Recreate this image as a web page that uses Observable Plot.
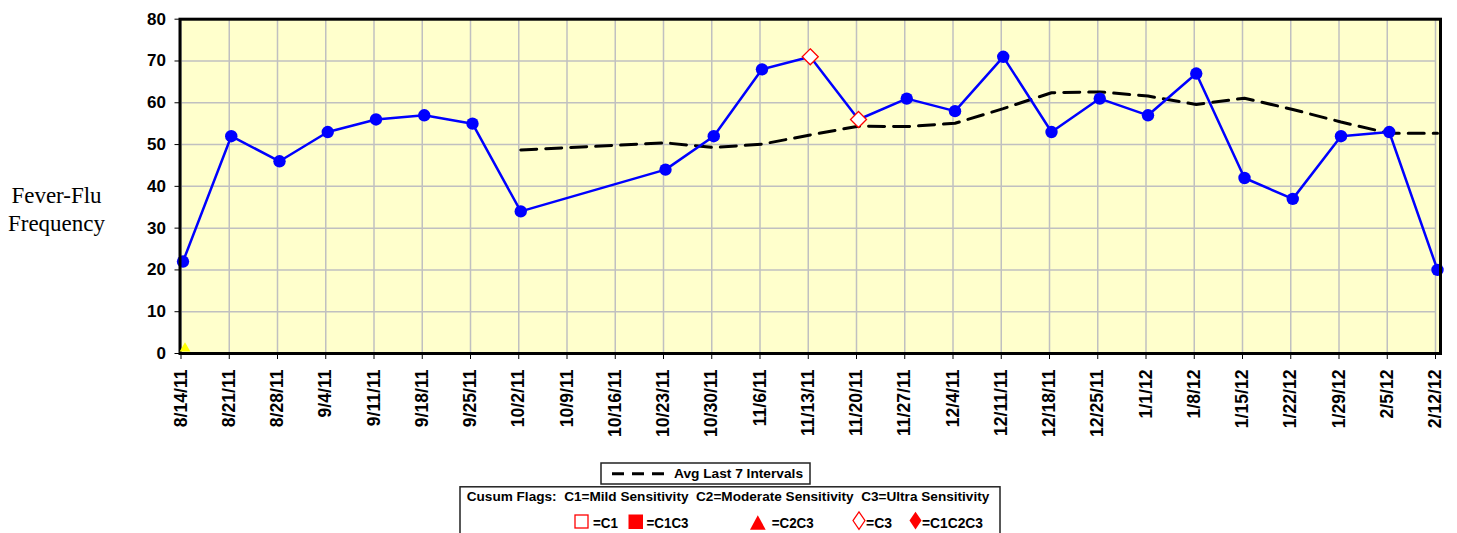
<!DOCTYPE html>
<html><head><meta charset="utf-8">
<script src="https://cdn.jsdelivr.net/npm/d3@7"></script>
<script src="https://cdn.jsdelivr.net/npm/@observablehq/plot@0.6"></script>
<style>
html,body{margin:0;padding:0;background:#fff;}
#wrap{position:relative;width:1457px;height:533px;overflow:hidden;background:#fff;}
#chart{position:absolute;left:0;top:0;}
#ylabel{position:absolute;left:0;top:182px;width:113px;text-align:center;font-family:"Liberation Serif","Times New Roman",serif;font-size:23px;line-height:28px;color:#000;}
#legend{position:absolute;left:0;top:455px;}
</style></head><body>
<div id="wrap"><div id="chart"></div><div id="ylabel">Fever-Flu<br>Frequency</div><div id="legend"></div></div>
<script>
// ---- data ----
const dates = ["8/14/11","8/21/11","8/28/11","9/4/11","9/11/11","9/18/11","9/25/11","10/2/11","10/9/11","10/16/11","10/23/11","10/30/11","11/6/11","11/13/11","11/20/11","11/27/11","12/4/11","12/11/11","12/18/11","12/25/11","1/1/12","1/8/12","1/15/12","1/22/12","1/29/12","2/5/12","2/12/12"];
const counts = [22,52,46,53,56,57,55,34,null,null,44,52,68,71,56,61,58,71,53,61,57,67,42,37,52,53,20];
const avgLast7 = [null,null,null,null,null,null,null,48.7,null,null,50.4,49.3,50.1,52.3,54.4,54.3,55.1,58.6,62.4,62.6,61.6,59.6,61.1,58.4,55.4,52.7,52.7];
const cusumFlags = ["","","","","","","","","","","","","","C3","C3","","","","","","","","","","","",""];
const baseMarkerDates = ["8/14/11"];
const baseMarkerValues = [0];
const yTicks = [0,10,20,30,40,50,60,70,80];

const rows = dates.map((d,i)=>({date:d, count:counts[i], avg:avgLast7[i], flag:cusumFlags[i]}));
const countRows = rows.filter(r => r.count != null);
const avgRows = rows.filter(r => r.avg != null);
const dotRows = countRows.filter(r => r.flag === "");
const flagRows = countRows.filter(r => r.flag === "C3");
const baseRows = baseMarkerDates.map((d,i)=>({date:d, value:baseMarkerValues[i]}));

const font = "'Liberation Sans', Arial, sans-serif";
const chart = Plot.plot({
  width: 1457, height: 455,
  marginLeft: 180.5, marginRight: 22, marginTop: 18.7, marginBottom: 102,
  style: {fontFamily: font, fontSize: "17px", fontWeight: "bold", color: "black", background: "transparent", overflow: "visible"},
  x: {type: "point", domain: dates, padding: 0, round: false, label: null},
  y: {domain: [0, 80], label: null},
  marks: [
    Plot.frame({fill: "#FFFFCC", insetRight: -5, insetLeft: -1}),
    Plot.gridX({stroke: "#c0c0c0", strokeOpacity: 1, strokeWidth: 1.5}),
    Plot.gridY(yTicks.slice(1, -1), {stroke: "#c0c0c0", strokeOpacity: 1, strokeWidth: 1.5}),
    Plot.line(avgRows, {x: "date", y: "avg", stroke: "black", strokeWidth: 3, strokeDasharray: "16,9", dx: 2}),
    Plot.line(countRows, {x: "date", y: "count", stroke: "#0000FF", strokeWidth: 2.5, dx: 2}),
    Plot.dot(dotRows, {x: "date", y: "count", r: 6.2, fill: "#0000FF", dx: 2}),
    Plot.dot(flagRows, {x: "date", y: "count", symbol: "diamond2", r: 7.2, fill: "white", stroke: "red", strokeWidth: 1.3, dx: 2}),
    Plot.frame({stroke: "black", strokeWidth: 3, insetRight: -5, insetLeft: -1}),
    Plot.dot(baseRows, {x: "date", y: "value", symbol: "triangle", r: 4, fill: "#FFFF00", stroke: "none", dx: 4, dy: -5}),
    Plot.axisY(yTicks, {tickSize: 6, tickPadding: 9, fontSize: 17, fontWeight: "bold", label: null}),
    Plot.axisX({tickSize: 6, tickPadding: 10, tickRotate: -90, fontSize: 17.6, fontWeight: "bold", label: null})
  ]
});
document.getElementById("chart").appendChild(chart);

// ---- legend ----
const off = 455;
const svg = d3.select("#legend").append("svg").attr("width", 1457).attr("height", 78)
  .style("font-family", font).style("font-weight", "bold");
function txt(s, x, y, size, len) {
  svg.append("text").attr("x", x).attr("y", y - off).attr("font-size", size)
    .attr("textLength", len).attr("lengthAdjust", "spacingAndGlyphs")
    .style("white-space", "pre").attr("fill", "black").text(s);
}
// box 1
svg.append("rect").attr("x", 601).attr("y", 463 - off).attr("width", 209).attr("height", 21)
  .attr("fill", "white").attr("stroke", "#222").attr("stroke-width", 1.5);
svg.append("line").attr("x1", 612).attr("x2", 664).attr("y1", 473.7 - off).attr("y2", 473.7 - off)
  .attr("stroke", "black").attr("stroke-width", 3).attr("stroke-dasharray", "12,8");
txt("Avg Last 7 Intervals", 674, 478.3, 12.5, 129);
// box 2
svg.append("rect").attr("x", 460).attr("y", 486.8 - off).attr("width", 540).attr("height", 70)
  .attr("fill", "white").attr("stroke", "#222").attr("stroke-width", 1.5);
txt("Cusum Flags:  C1=Mild Sensitivity  C2=Moderate Sensitivity  C3=Ultra Sensitivity", 466.7, 500.5, 13, 522.6);
// symbols
svg.append("rect").attr("x", 575).attr("y", 515 - off).attr("width", 13).attr("height", 13)
  .attr("fill", "white").attr("stroke", "red").attr("stroke-width", 1.3);
txt("=C1", 593, 528, 14, 25);
svg.append("rect").attr("x", 628.5).attr("y", 514.5 - off).attr("width", 14.5).attr("height", 14.5).attr("fill", "red");
txt("=C1C3", 646.5, 528, 14, 42);
svg.append("polygon").attr("points", [[750,529.7-off],[765.7,529.7-off],[757.8,515.3-off]].join(" ")).attr("fill", "red");
txt("=C2C3", 771.7, 528, 14, 42);
svg.append("polygon").attr("points", [[859,511.8-off],[865,520.6-off],[859,529.4-off],[853,520.6-off]].join(" "))
  .attr("fill", "white").attr("stroke", "red").attr("stroke-width", 1.2);
txt("=C3", 866, 528, 14, 26);
svg.append("polygon").attr("points", [[915.5,511.8-off],[921.5,520.6-off],[915.5,529.4-off],[909.5,520.6-off]].join(" "))
  .attr("fill", "red");
txt("=C1C2C3", 922, 528, 14, 61);
</script>
</body></html>
